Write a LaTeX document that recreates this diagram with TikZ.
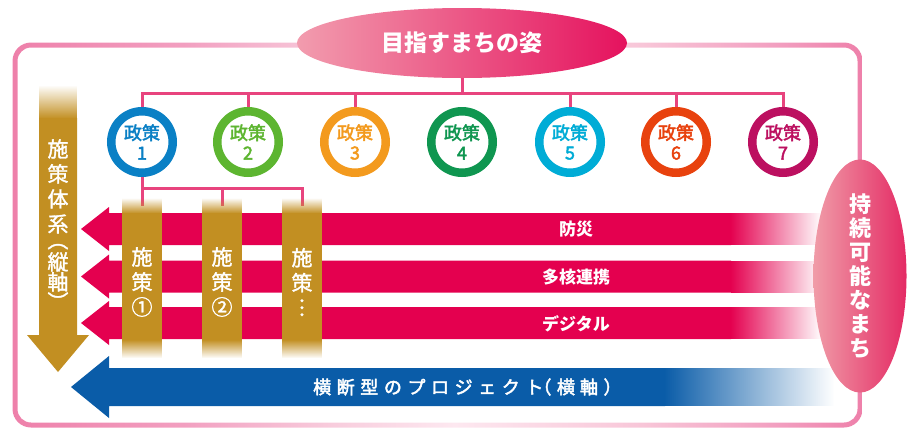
\documentclass[tikz,border=0pt]{standalone}
\usepackage{fontspec}
\setmainfont{Noto Sans CJK JP}
\newfontfamily\jpmed{Noto Sans CJK JP}[FakeBold=2.5]
\newfontfamily\jplt{Noto Sans CJK JP}[FakeBold=1.5]
\newfontfamily\jpsp{Noto Sans CJK JP}[LetterSpace=31,FakeBold=2.5]
\usetikzlibrary{shapes.geometric,fadings}
\definecolor{fA}{HTML}{EE80AA}
\definecolor{fB}{HTML}{F29FC0}
\definecolor{fC}{HTML}{F8CDDD}
\definecolor{fD}{HTML}{FDE8F0}
\definecolor{fE}{HTML}{F8C6D8}
\definecolor{barpink}{HTML}{E4004F}
\definecolor{lnpink}{HTML}{E8447E}
\definecolor{gold}{HTML}{C28F22}
\definecolor{blu}{HTML}{0A5CA8}
\definecolor{cA}{HTML}{0A80C5}
\definecolor{cB}{HTML}{5DB530}
\definecolor{cC}{HTML}{F39A1E}
\definecolor{cD}{HTML}{0F9650}
\definecolor{cE}{HTML}{00ACD6}
\definecolor{cF}{HTML}{E8420E}
\definecolor{cG}{HTML}{BC1060}
\definecolor{tL}{HTML}{F29CAE}
\definecolor{tM}{HTML}{EA6890}
\definecolor{tR}{HTML}{E5125E}
\definecolor{rL}{HTML}{F09CA8}
\definecolor{rM}{HTML}{EA6A8C}
\definecolor{rR}{HTML}{E42A64}
\pgfdeclarehorizontalshading{frameshade}{100bp}{color(0bp)=(fA); color(25bp)=(fA); color(35bp)=(fB); color(44bp)=(fC); color(51bp)=(fD); color(62bp)=(fE); color(70bp)=(fB); color(75bp)=(fA); color(100bp)=(fA)}
\newcommand{\vlp}{\smash{\rotatebox[origin=c]{-90}{（}}}
\newcommand{\vrp}{\smash{\rotatebox[origin=c]{-90}{）}}}
\begin{document}
\begin{tikzpicture}[x=1pt,y=-1pt,
  conn/.style={draw=lnpink, line width=3pt},
  ring/.style={circle, line width=8.5pt, minimum size=61.5pt, inner sep=0pt, fill=white, align=center, font=\jpmed\fontsize{18}{20}\selectfont},
  colbar/.style={rectangle, minimum width=39pt, minimum height=160pt, inner sep=0pt},
  coltext/.style={text=white, align=center, inner sep=0pt, font=\jplt\fontsize{21}{25}\selectfont},
  barlabel/.style={text=white, inner sep=0pt, font=\bfseries\fontsize{17}{17}\selectfont}]
\useasboundingbox (0,0) rectangle (918,432);
% frame
\shade[shading=frameshade, even odd rule]
  [rounded corners=18.5pt] (12.5,42.5) rectangle (862.5,427.5)
  [rounded corners=13.5pt] (17.5,47.5) rectangle (857.5,422.5);
% pink bars
\foreach \t/\b in {213/245, 260.5/292.5, 307/339}{
  \fill[barpink] ({81},{(\t+\b)/2}) -- (109,{(\t+\b)/2-22}) -- (109,\t) -- (731,\t)
     -- (731,\b) -- (109,\b) -- (109,{(\t+\b)/2+22}) -- cycle;
  \fill[barpink, path fading=east] (730.5,\t) rectangle (822,\b);
}
% blue bar
\fill[blu] (71,387) -- (109,356) -- (109,368) -- (665,368) -- (665,406) -- (109,406) -- (109,418) -- cycle;
\fill[blu, path fading=east] (664.5,368) rectangle (834,406);
% gold vertical arrow
\fill[gold, path fading=north] (39,85) rectangle (77,118.5);
\fill[gold] (39,118) -- (77,118) -- (77,335) -- (89,335) -- (58,372) -- (27,335) -- (39,335) -- cycle;
\node[coltext, anchor=north] (vt) at (58,139)
  {施\\策\\体\\系\\[-9pt]\vlp\\[-3pt]縦\\[-5pt]軸\\[-5pt]\vrp};
% ellipses
\node[ellipse, minimum width=330pt, minimum height=70pt, inner sep=0pt,
  left color=tL, middle color=tM, right color=tR, text=white,
  font=\bfseries\fontsize{23}{23}\selectfont] (title) at (462,43) {目指すまちの姿};
% circles
\node[ring, draw=cA, text=cA] (p1) at (142,142) {政策\\1};
\node[ring, draw=cB, text=cB] (p2) at (248,142) {政策\\2};
\node[ring, draw=cC, text=cC] (p3) at (355,142) {政策\\3};
\node[ring, draw=cD, text=cD] (p4) at (462,142) {政策\\4};
\node[ring, draw=cE, text=cE] (p5) at (570,142) {政策\\5};
\node[ring, draw=cF, text=cF] (p6) at (676,142) {政策\\6};
\node[ring, draw=cG, text=cG] (p7) at (783,142) {政策\\7};
% columns (placeholders)
\node[colbar] (s1) at (142,278) {};
\node[colbar] (s2) at (222,278) {};
\node[colbar] (s3) at (302,278) {};
% connectors
\coordinate (bus) at (462,93);
\coordinate (bus2) at (222,188);
\draw[conn] (title.south) -- (bus);
\draw[conn] (p1.north) |- (bus) -| (p7.north);
\foreach \k in {p2,p3,p5,p6}{ \draw[conn] (\k.north) -- (\k.north |- bus); }
\draw[conn] (p1.south) -- ([yshift=-8pt]s1.north);
\draw[conn] (p1.south |- bus2) -| ([yshift=-8pt]s3.north);
\draw[conn] (bus2) -- ([yshift=-8pt]s2.north);
% columns fill
\foreach \s in {s1,s2,s3}{
  \fill[gold, path fading=north] (\s.north west) rectangle ([yshift=-15.5pt]\s.north east);
  \fill[gold] ([yshift=-15pt]\s.north west) rectangle ([yshift=18pt]\s.south east);
  \fill[gold, path fading=south] ([yshift=18.5pt]\s.south west) rectangle (\s.south east);
}
\node[coltext] (t1) at (142,282) {施\\策\\①};
\node[coltext] (t2) at (222,282) {施\\策\\②};
\node[coltext] (t3) at (302,282) {施\\策\\︙};
% bar labels
\node[barlabel] (l1) at (576,229) {防災};
\node[barlabel] (l2) at (576,277) {多核連携};
\node[barlabel] (l3) at (576,323.5) {デジタル};
\node[text=white, inner sep=0pt, anchor=west, font=\jpsp\fontsize{18}{18}\selectfont] (l4) at (313,387) {横断型のプロジェクト\hspace{-10pt}（横\hspace{5pt}軸）};
% right ellipse
\node[ellipse, minimum width=93pt, minimum height=198pt, inner sep=0pt,
  left color=rL, middle color=rM, right color=rR, text=white, align=center,
  font=\bfseries\fontsize{22}{24}\selectfont] (sus) at (860,276)
  {持\\続\\可\\能\\な\\ま\\ち};
\end{tikzpicture}
\end{document}
